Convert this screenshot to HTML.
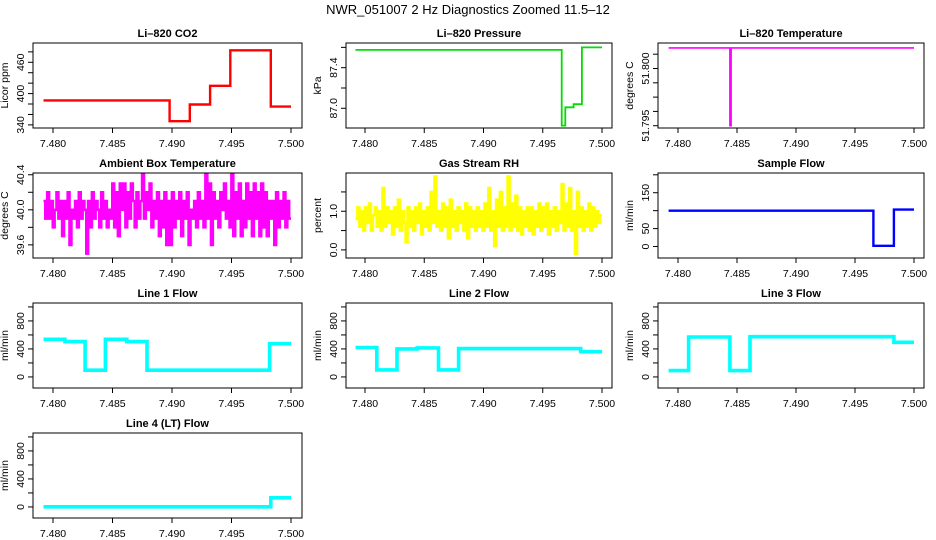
<!DOCTYPE html>
<html><head><meta charset="utf-8">
<style>
html,body{margin:0;padding:0;background:#fff;}
svg{display:block;font-family:"Liberation Sans",sans-serif;}
</style></head>
<body>
<svg id="chart" width="936" height="540" viewBox="0 0 936 540" xmlns="http://www.w3.org/2000/svg">
<rect x="0" y="0" width="936" height="540" fill="#fff"/>
<text x="468" y="14" text-anchor="middle" font-size="13">NWR_051007  2 Hz Diagnostics Zoomed 11.5–12</text>
</svg>
<script>
// ---- data ----
const xTicks = [7.480, 7.485, 7.490, 7.495, 7.500];
const xTickLabels = ["7.480", "7.485", "7.490", "7.495", "7.500"];
const xStart = 7.4792, xEnd = 7.5000;

const co2Breaks = [7.4792, 7.4898, 7.4915, 7.4932, 7.4949, 7.4983, 7.5000];
const co2Levels = [387, 347, 379, 415, 483, 375];

const presBreaks = [7.4792, 7.4966, 7.4969, 7.4976, 7.4983, 7.5000];
const presLevels = [87.575, 86.83, 87.01, 87.04, 87.60];

const tempBreaks = [7.4792, 7.4844, 7.4845, 7.5000];
const tempLevels = [51.8018, 51.795, 51.8018];

const ambTemp = [40.1,39.9,40.2,39.9,40.1,39.8,40.0,40.2,39.9,40.1,39.7,40.1,39.9,40.2,39.6,40.0,39.9,40.1,39.8,40.2,39.9,40.1,40.0,39.5,40.1,39.8,40.2,39.9,40.1,40.0,39.8,40.2,39.9,40.1,39.8,40.0,39.9,40.3,39.8,40.2,39.7,40.3,40.0,40.3,39.8,40.2,39.9,40.3,40.1,39.8,40.2,39.9,40.1,40.4,39.9,40.2,40.0,40.3,39.8,40.1,39.9,40.2,39.7,40.1,39.8,40.2,39.6,40.1,39.6,40.2,39.8,40.1,39.9,40.2,39.7,40.1,39.9,40.2,39.6,40.0,39.9,40.1,39.8,40.2,39.9,40.1,39.8,40.4,39.9,40.3,39.6,40.2,39.9,40.1,39.8,40.2,40.0,40.3,39.9,40.1,39.8,40.4,39.7,40.2,39.9,40.3,39.7,40.1,39.8,40.3,39.9,40.2,39.7,40.3,39.9,40.2,39.7,40.3,39.8,40.2,39.7,40.1,39.9,40.1,39.6,40.2,39.8,40.1,39.9,40.2,39.8,40.1,39.9];

const gasRH = [0.8,1.1,0.6,1.0,0.5,1.1,0.7,1.2,0.5,0.9,1.1,0.6,1.0,0.5,1.6,0.6,1.1,0.7,1.0,0.4,1.1,0.6,1.3,0.5,1.0,0.7,0.2,1.1,0.6,1.0,0.5,1.1,0.7,1.2,0.4,1.0,0.6,1.1,0.5,1.5,0.7,1.9,0.6,1.0,0.5,1.2,0.6,1.1,0.3,1.3,0.6,1.0,0.5,1.1,0.7,1.0,0.5,1.2,0.3,1.1,0.6,1.0,0.5,1.1,0.6,1.0,0.5,1.2,0.6,1.6,0.5,1.0,0.1,1.3,0.6,1.5,0.5,1.1,0.6,1.9,0.5,1.2,0.6,1.4,0.5,1.1,0.4,1.0,0.6,1.1,0.5,1.1,0.4,1.0,0.6,1.2,0.5,1.1,0.6,1.2,0.4,1.0,0.6,1.1,0.5,1.0,0.7,1.7,0.5,1.2,0.6,1.6,0.5,1.0,-0.1,1.5,0.6,1.1,0.5,1.0,0.6,1.2,0.5,1.1,0.6,1.0,0.7,0.9];

const sampBreaks = [7.4792, 7.49656, 7.4983, 7.5000];
const sampLevels = [100, 2, 103];

const line1Breaks = [7.4792, 7.4810, 7.4827, 7.4844, 7.4862, 7.4879, 7.4982, 7.5000];
const line1Levels = [538, 505, 96, 538, 505, 96, 475];

const line2Breaks = [7.4792, 7.4810, 7.4827, 7.4844, 7.4862, 7.4879, 7.4982, 7.5000];
const line2Levels = [420, 100, 400, 415, 100, 405, 360];

const line3Breaks = [7.4792, 7.4809, 7.4844, 7.4861, 7.4983, 7.5000];
const line3Levels = [90, 570, 90, 575, 495];

const line4Breaks = [7.4792, 7.4983, 7.5000];
const line4Levels = [2, 130];

const flowTicks = [0, 200, 400, 600, 800, 1000];
const flowLabels = ["0", "", "400", "", "800", ""];

// ---- layout ----
const cols = [{b0:33,b1:302,t0:53,t1:291},{b0:346,b1:612,t0:365,t1:602},{b0:658,b1:924,t0:678,t1:914}];
const rows = [43,173,303,433];
const BH = 85;
const svg = document.getElementById('chart');
const NS = 'http://www.w3.org/2000/svg';
function mk(tag, attrs, parent){const e=document.createElementNS(NS,tag);for(const k in attrs)e.setAttribute(k,attrs[k]);(parent||svg).appendChild(e);return e;}

const panels = [
 {id:'co2',title:'Li–820 CO2',yl:'Licor ppm',c:0,r:0,ymin:334,ymax:497,ticks:[340,360,380,400,420,440,460,480],labels:['340','','','400','','','460',''],color:'#ff0000',lw:2.4,steps:[co2Breaks,co2Levels]},
 {id:'pressure',title:'Li–820 Pressure',yl:'kPa',c:1,r:0,ymin:86.806,ymax:87.643,ticks:[87.0,87.2,87.4,87.6],labels:['87.0','','87.4',''],color:'#00dd00',lw:1.8,steps:[presBreaks,presLevels]},
 {id:'temperature',title:'Li–820 Temperature',yl:'degrees C',c:2,r:0,ymin:51.7948,ymax:51.80223,ticks:[51.795,51.79625,51.7975,51.79875,51.800,51.80125],labels:['51.795','','','','51.800',''],color:'#ff00ff',lw:1.6,steps:[tempBreaks,tempLevels]},
 {id:'ambient-temp',title:'Ambient Box Temperature',yl:'degrees C',c:0,r:1,ymin:39.45,ymax:40.42,ticks:[39.6,39.8,40.0,40.2,40.4],labels:['39.6','','40.0','','40.4'],color:'#ff00ff',lw:2.6,series:ambTemp},
 {id:'gas-rh',title:'Gas Stream RH',yl:'percent',c:1,r:1,ymin:-0.21,ymax:1.99,ticks:[0,0.5,1.0,1.5],labels:['0.0','','1.0',''],color:'#ffff00',lw:2.6,series:gasRH},
 {id:'sample-flow',title:'Sample Flow',yl:'ml/min',c:2,r:1,ymin:-32,ymax:205,ticks:[0,50,100,150,200],labels:['0','50','','150',''],color:'#0000ff',lw:2.4,steps:[sampBreaks,sampLevels]},
 {id:'line1-flow',title:'Line 1 Flow',yl:'ml/min',c:0,r:2,ymin:-158,ymax:1056,ticks:flowTicks,labels:flowLabels,color:'#00ffff',lw:3.6,steps:[line1Breaks,line1Levels]},
 {id:'line2-flow',title:'Line 2 Flow',yl:'ml/min',c:1,r:2,ymin:-158,ymax:1056,ticks:flowTicks,labels:flowLabels,color:'#00ffff',lw:3.6,steps:[line2Breaks,line2Levels]},
 {id:'line3-flow',title:'Line 3 Flow',yl:'ml/min',c:2,r:2,ymin:-158,ymax:1056,ticks:flowTicks,labels:flowLabels,color:'#00ffff',lw:3.6,steps:[line3Breaks,line3Levels]},
 {id:'line4-flow',title:'Line 4 (LT) Flow',yl:'ml/min',c:0,r:3,ymin:-158,ymax:1056,ticks:flowTicks,labels:flowLabels,color:'#00ffff',lw:3.6,steps:[line4Breaks,line4Levels]}
];

panels.forEach(p=>{
  const C=cols[p.c], top=rows[p.r], bot=top+BH;
  const xs=v=>C.t0+(v-7.48)/0.02*(C.t1-C.t0);
  const ys=v=>bot-(v-p.ymin)/(p.ymax-p.ymin)*BH;
  const g=mk('g',{});
  
  
  const t=mk('text',{x:(C.b0+C.b1)/2,y:top-6,'text-anchor':'middle','font-size':11,'font-weight':'bold'},g);
  t.textContent=p.title;
  
  
  let d='';
  if(p.steps){
    const [b,l]=p.steps;
    for(let i=0;i<l.length;i++){
      d+=(i===0?'M':'L')+xs(b[i]).toFixed(1)+','+ys(l[i]).toFixed(1)+'L'+xs(b[i+1]).toFixed(1)+','+ys(l[i]).toFixed(1);
    }
  } else {
    const n=p.series.length;
    p.series.forEach((v,i)=>{
      const x0=xStart+(xEnd-xStart)*i/n, x1=xStart+(xEnd-xStart)*(i+1)/n;
      d+=(i===0?'M':'L')+xs(x0).toFixed(1)+','+ys(v).toFixed(1)+'L'+xs(x1).toFixed(1)+','+ys(v).toFixed(1);
    });
  }
  const path=mk('path',{d:d,fill:'none',stroke:p.color,'stroke-width':p.lw},g);
  
  
  const box=mk('rect',{x:C.b0,y:top,width:C.b1-C.b0,height:BH,fill:'none',stroke:'#000','stroke-width':1},g);
  
  
  const xa=mk('g',{},g);
  
  
  mk('line',{x1:xs(xTicks[0]),x2:xs(xTicks[xTicks.length-1]),y1:bot,y2:bot,stroke:'#000'},xa);
  xTicks.forEach((v,i)=>{
    mk('line',{x1:xs(v),x2:xs(v),y1:bot,y2:bot+5,stroke:'#000'},xa);
    const tl=mk('text',{x:xs(v),y:bot+19,'text-anchor':'middle','font-size':10.5},xa);
    tl.textContent=xTickLabels[i];
    
    
  });
  const ya=mk('g',{},g);
  
  
  mk('line',{x1:C.b0,x2:C.b0,y1:ys(p.ticks[0]),y2:ys(p.ticks[p.ticks.length-1]),stroke:'#000'},ya);
  p.ticks.forEach((v,i)=>{
    const y=ys(v);
    mk('line',{x1:C.b0-5,x2:C.b0,y1:y,y2:y,stroke:'#000'},ya);
    if(p.labels[i]){
      const tl=mk('text',{x:C.b0-9,y:y,'text-anchor':'middle','font-size':10.5,transform:`rotate(-90 ${C.b0-9} ${y})`},ya);
      tl.textContent=p.labels[i];
      
      
    }
  });
  const ylx=C.b0-25, yly=top+BH/2;
  const yl=mk('text',{x:ylx,y:yly,'text-anchor':'middle','font-size':10.5,transform:`rotate(-90 ${ylx} ${yly})`},g);
  yl.textContent=p.yl;
  
  
});
</script>
</body></html>
